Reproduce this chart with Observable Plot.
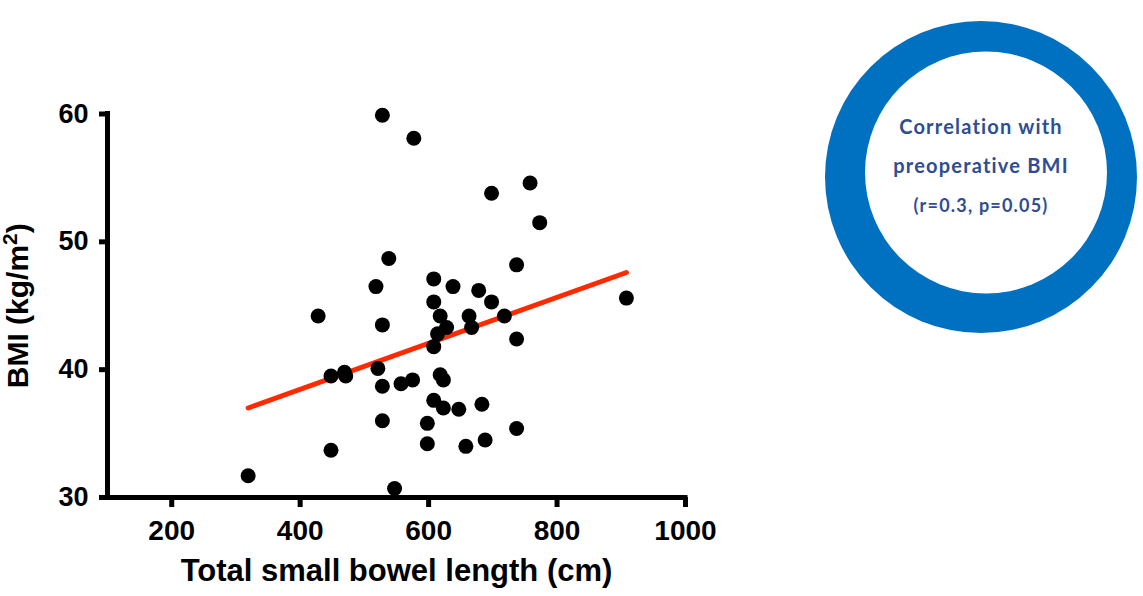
<!DOCTYPE html>
<html>
<head>
<meta charset="utf-8">
<script src="https://cdn.jsdelivr.net/npm/d3@7"></script>
<script src="https://cdn.jsdelivr.net/npm/@observablehq/plot@0.6"></script>
<style>
  html, body { margin: 0; padding: 0; background: #fff; }
  #wrap { position: relative; width: 1143px; height: 596px; overflow: hidden; }
  #wrap svg { position: absolute; left: 0; top: 0; }
</style>
</head>
<body>
<div id="wrap"></div>
<script>
// Data
const bowelLength = [528, 577, 698, 758, 773, 737, 608, 638, 678, 608, 698, 908, 538, 518, 428, 528,
  448, 469, 471, 521, 528, 557, 575, 528, 448, 319, 547, 618, 663, 718, 628, 667, 614, 608, 737,
  618, 623, 608, 623, 647, 683, 598, 737, 598, 658, 688];
const bmi = [59.9, 58.1, 53.8, 54.6, 51.5, 48.2, 47.1, 46.5, 46.2, 45.3, 45.3, 45.6, 48.7, 46.5, 44.2, 43.5,
  39.5, 39.8, 39.5, 40.1, 38.7, 38.9, 39.2, 36.0, 33.7, 31.7, 30.7, 44.2, 44.2, 44.2, 43.3, 43.3, 42.8, 41.8, 42.4,
  39.6, 39.2, 37.6, 37.0, 36.9, 37.3, 35.8, 35.4, 34.2, 34.0, 34.5];
const fitX = [319, 908];
const fitY = [37.0, 47.6];
const xTicks = [200, 400, 600, 800, 1000];
const yTicks = [30, 40, 50, 60];
const xLabel = "Total small bowel length (cm)";
const yLabel = "BMI (kg/m²)";
const noteLines = ["Correlation with", "preoperative BMI", "(r=0.3, p=0.05)"];

const points = bowelLength.map((x, i) => ({x, y: bmi[i]}));
const fit = fitX.map((x, i) => ({x, y: fitY[i]}));

const chart = Plot.plot({
  width: 1143,
  height: 596,
  marginLeft: 107,
  marginRight: 458,
  marginTop: 113.5,
  marginBottom: 99,
  x: {domain: [100, 1000]},
  y: {domain: [30, 60]},
  style: {fontFamily: "'Liberation Sans', Arial, sans-serif", fontWeight: "bold", background: "white", color: "black"},
  marks: [
    Plot.axisX(xTicks, {tickSize: 10, tickPadding: 13, strokeWidth: 5, fontSize: 28, fontWeight: "bold", label: null, tickFormat: d => String(d)}),
    Plot.axisY(yTicks, {tickSize: 8, tickPadding: 11, strokeWidth: 5, fontSize: 27, fontWeight: "bold", label: null, tickFormat: d => String(d)}),
    Plot.ruleX([100], {strokeWidth: 5, strokeLinecap: "square"}),
    Plot.ruleY([30], {strokeWidth: 5, strokeLinecap: "square"}),
    Plot.line(fit, {x: "x", y: "y", stroke: "#ff2a00", strokeWidth: 5, strokeLinecap: "round"}),
    Plot.dot(points, {x: "x", y: "y", r: 7.5, fill: "black", stroke: "none"}),
    Plot.text([xLabel], {frameAnchor: "bottom", dy: 83, fontSize: 31, fontWeight: "bold", textAnchor: "middle"}),
    Plot.text([yLabel], {frameAnchor: "left", dx: -89.6, rotate: -90, fontSize: 30, fontWeight: "bold", textAnchor: "middle"})
  ]
});

document.getElementById("wrap").appendChild(chart);

// proper superscript for the y label
d3.select(chart).selectAll("text").each(function() {
  if (this.textContent === yLabel) {
    const t = d3.select(this);
    t.text(null);
    t.append("tspan").text("BMI (kg/m");
    t.append("tspan").attr("dy", -11).attr("font-size", 21).text("2");
    t.append("tspan").attr("dy", 11).text(")");
  }
});

// Annotation ring on the right
const note = d3.select("#wrap").append("svg")
  .attr("width", 1143).attr("height", 596)
  .style("pointer-events", "none");
note.append("circle").attr("cx", 981).attr("cy", 177).attr("r", 156).attr("fill", "#0070c0");
note.append("circle").attr("cx", 986).attr("cy", 172.5).attr("r", 121).attr("fill", "#ffffff");
const baselines = [134, 173, 212];
const sizes = [20, 20, 18];
noteLines.forEach((s, i) => {
  note.append("text")
    .attr("x", 981).attr("y", baselines[i])
    .attr("text-anchor", "middle")
    .attr("font-family", "Lato, 'Open Sans', sans-serif")
    .attr("font-weight", 700)
    .attr("font-size", sizes[i])
    .attr("letter-spacing", 1.2)
    .attr("fill", "#2e4d92")
    .text(s);
});
</script>
</body>
</html>
